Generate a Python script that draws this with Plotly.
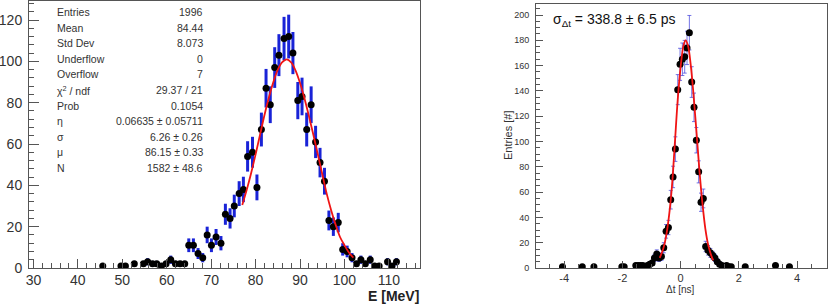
import plotly.graph_objects as go

W, H = 830, 304

# ---------------- left histogram (E) ----------------
e_centers = [45.6, 49.7, 50.7, 52.7, 54.75, 55.7, 56.8, 57.75, 58.8, 59.85, 60.9, 61.95, 63.0, 64.05,
             64.96, 66.0, 67.05, 68.1, 69.1, 70.06, 71.1, 72.2, 73.2, 74.25, 75.2, 76.3, 77.25,
             78.2, 79.3, 80.3, 81.3, 82.35, 83.3, 84.3, 85.25, 86.4, 87.45, 88.4, 89.5, 90.45,
             91.5, 92.5, 93.5, 94.5, 95.5, 96.5, 97.5, 98.6, 99.6, 100.6, 101.7, 102.7, 103.7,
             104.7, 105.8, 106.8, 107.8, 109.7, 110.7, 111.7]
e_counts = [1, 1, 1, 2, 2, 3, 2, 2, 1, 2, 4, 2, 2, 2,
            11, 11, 7, 5, 16, 11, 15, 12, 26, 24, 30, 36, 38,
            54, 56, 39, 67, 87, 79, 97, 103, 111, 112, 104, 81, 83,
            67, 79, 61, 51, 42, 23, 20, 22, 9, 8, 5, 2, 4,
            2, 4, 1, 1, 3, 1, 3]
e_fit_x = [77.0, 78.0, 79.0, 80.0, 81.0, 82.0, 83.0, 84.0, 85.0, 86.0, 87.0, 88.0, 89.0,
           90.0, 91.0, 92.0, 93.0, 94.0, 95.0, 96.0, 97.0, 98.0, 99.0, 100.0, 101.0, 102.0]
e_fit_y = [30.5, 37.8, 46, 55, 64.5, 74, 82.6, 90, 96, 99.6, 101, 99.5, 95.5,
           89.5, 82, 73.5, 64.5, 55, 45.5, 36, 28, 21, 15, 11, 7.5, 5]
stat_labels = ["Entries", "Mean", "Std Dev", "Underflow", "Overflow", "χ<sup>2</sup> / ndf",
               "Prob", "η", "σ", "μ", "N"]
stat_values = ["1996", "84.44", "8.073", "0", "7", "29.37 / 21", "0.1054",
               "0.06635 ± 0.05711", "6.26 ± 0.26", "86.15 ± 0.33", "1582 ± 48.6"]

# ---------------- right histogram (Δt) ----------------
t_centers = [-4.06, -3.38, -2.98, -2.02, -1.94, -1.54, -1.46, -1.38, -1.30, -1.22, -1.14, -1.06,
             -0.98, -0.90, -0.82, -0.74, -0.66, -0.58, -0.50, -0.42, -0.34, -0.26, -0.18, -0.10,
             -0.02, 0.06, 0.14, 0.22, 0.30, 0.38, 0.46, 0.54, 0.62, 0.70, 0.78, 0.86, 0.94,
             1.02, 1.10, 1.18, 1.26, 1.34, 1.42, 1.58, 1.66, 1.74, 2.22, 3.26, 3.74]
t_counts = [1, 1, 1, 1, 1, 2, 2, 2, 2, 1, 2, 3,
            4, 8, 11, 8, 9, 16, 29, 32, 54, 72, 94, 141,
            161, 165, 167, 174, 186, 147, 127, 101, 76, 52, 55, 17, 14,
            12, 10, 8, 5, 3, 2, 2, 1, 1, 1, 2, 1]
t_fit_x = [-0.72, -0.6, -0.5, -0.4, -0.3, -0.2, -0.1, 0.0, 0.1, 0.17, 0.25, 0.35, 0.45,
           0.55, 0.65, 0.75, 0.85, 0.95, 1.05, 1.12]
t_fit_y = [8, 15, 25, 41, 64, 98, 133, 159, 176, 180, 176, 160, 135,
           106, 76, 51, 31, 18, 10, 6]


def px(x):
    return x / W


def py(y):
    return 1 - y / H


fig = go.Figure()

fig.add_trace(go.Scatter(
    x=e_centers, y=e_counts, mode="markers", xaxis="x", yaxis="y",
    marker=dict(color="black", size=7),
    error_y=dict(type="sqrt", color="rgb(25,35,215)", thickness=3, width=0),
    showlegend=False))
fig.add_trace(go.Scatter(
    x=e_fit_x, y=e_fit_y, mode="lines", xaxis="x", yaxis="y", line_shape="spline",
    line=dict(color="rgb(240,20,20)", width=1.8), showlegend=False))

fig.add_trace(go.Scatter(
    x=t_centers, y=t_counts, mode="markers", xaxis="x2", yaxis="y2",
    marker=dict(color="black", size=7),
    error_y=dict(type="sqrt", color="rgba(70,70,220,0.75)", thickness=1, width=2),
    showlegend=False))
fig.add_trace(go.Scatter(
    x=t_fit_x, y=t_fit_y, mode="lines", xaxis="x2", yaxis="y2", line_shape="spline",
    line=dict(color="rgb(240,20,20)", width=1.8), showlegend=False))

axcol = "#555555"
tickcol = "#333333"
common = dict(showgrid=False, zeroline=False, showline=True, linecolor=axcol, linewidth=1,
              mirror=True, ticks="inside", tickcolor=axcol, automargin=False)

fig.update_layout(
    width=W, height=H, margin=dict(l=0, r=0, t=0, b=0, pad=0, autoexpand=False),
    paper_bgcolor="white", plot_bgcolor="white",
    font=dict(family="Liberation Sans, Arial, sans-serif", color=tickcol),
    xaxis=dict(domain=[px(29), px(420)], range=[29, 117], anchor="y",
               tickvals=[30, 40, 50, 60, 70, 80, 90, 100, 110], ticklen=9,
               ticklabelstandoff=-1,
               tickfont=dict(size=14, color=tickcol),
               minor=dict(dtick=2, ticklen=5, ticks="inside", tickcolor=axcol), **common),
    yaxis=dict(domain=[py(268), py(1)], range=[0, 129.2], anchor="x",
               tickvals=[0, 20, 40, 60, 80, 100, 120], ticklen=10, ticklabelstandoff=3,
               tickfont=dict(size=14, color=tickcol),
               minor=dict(dtick=4, ticklen=5, ticks="inside", tickcolor=axcol), **common),
    xaxis2=dict(domain=[px(536), px(827)], range=[-4.97, 5.03], anchor="y2",
                tickvals=[-4, -2, 0, 2, 4], ticktext=["-4", "-2", "0", "2", "4"], ticklen=7,
                tickfont=dict(size=11, color=tickcol),
                minor=dict(dtick=0.5, ticklen=4, ticks="inside", tickcolor=axcol), **common),
    yaxis2=dict(domain=[py(268), py(4)], range=[0, 208.7], anchor="x2",
                tickvals=list(range(0, 201, 20)), ticklen=7, ticklabelstandoff=4,
                tickfont=dict(size=9, color=tickcol),
                minor=dict(dtick=5, ticklen=4, ticks="inside", tickcolor=axcol), **common),
)

ann = []
row_y0, row_dy = 12, 15.6
for i, (lab, val) in enumerate(zip(stat_labels, stat_values)):
    yy = row_y0 + i * row_dy
    ann.append(dict(x=px(55), y=py(yy), xref="paper", yref="paper", text=lab,
                    xanchor="left", yanchor="middle", showarrow=False,
                    font=dict(size=10.5, color="#333333")))
    ann.append(dict(x=px(205), y=py(yy), xref="paper", yref="paper", text=val,
                    xanchor="right", yanchor="middle", showarrow=False,
                    font=dict(size=10.5, color="#333333")))

ann.append(dict(x=px(421), y=py(295.5), xref="paper", yref="paper", text="<b>E [MeV]</b>",
                xanchor="right", yanchor="middle", showarrow=False,
                font=dict(size=14, color="#222222")))
ann.append(dict(x=px(680), y=py(289), xref="paper", yref="paper", text="Δt [ns]",
                xanchor="center", yanchor="middle", showarrow=False,
                font=dict(size=10, color="#333333")))
ann.append(dict(x=px(508), y=py(135), xref="paper", yref="paper", text="Entries [#]",
                xanchor="center", yanchor="middle", showarrow=False, textangle=-90,
                font=dict(size=11, color="#333333")))
ann.append(dict(x=px(551), y=py(20), xref="paper", yref="paper",
                text="σ<sub>Δt</sub> = 338.8 ± 6.5 ps",
                xanchor="left", yanchor="middle", showarrow=False,
                font=dict(size=14, color="#111111")))

fig.update_layout(annotations=ann)
fig.write_html("out.html", config={"displayModeBar": False},
               post_script="document.body.style.margin='0';document.body.style.overflow='hidden';")
